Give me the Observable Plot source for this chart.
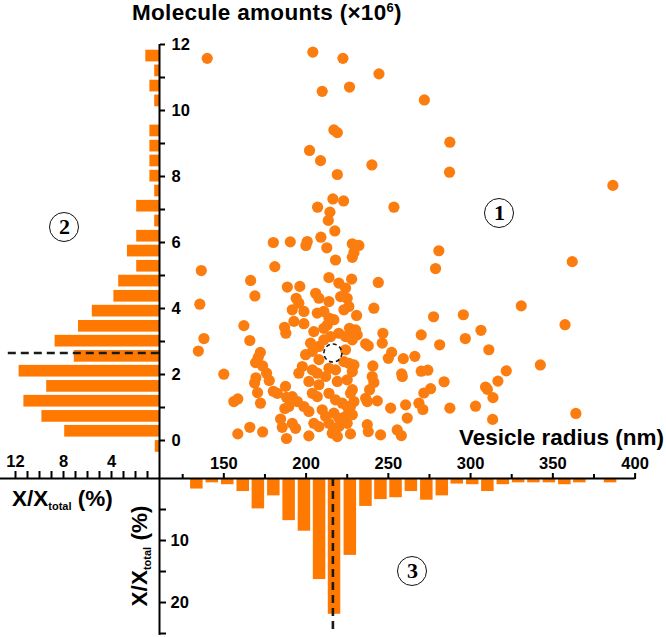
<!DOCTYPE html>
<html>
<head>
<meta charset="utf-8">
<script src="https://cdn.jsdelivr.net/npm/d3@7"></script>
<script src="https://cdn.jsdelivr.net/npm/@observablehq/plot@0.6"></script>
<style>
  body { margin: 0; background: #fff; }
  #chart { position: relative; width: 666px; height: 637px; background: #fff;
           font-family: "Liberation Sans", Arial, sans-serif; font-weight: bold; color: #000; }
  #chart svg { position: absolute; left: 0; top: 0; }
  .lbl { position: absolute; white-space: nowrap; line-height: 1; }
  .circ { position: absolute; width: 28px; height: 28px; border: 1.6px solid #111; border-radius: 50%;
          font-family: "Liberation Serif", "DejaVu Serif", serif; font-weight: bold; font-size: 22px;
          line-height: 28px; text-align: center; }
  sub { font-size: 11px; vertical-align: -4px; }
</style>
</head>
<body>
<div id="chart"></div>
<script>
// ---------- data ----------
// Scatter: vesicle radius (nm) and molecule amount (x10^6)
const scatterRadius = [
  139.9,204.1,222.4,244.3,226.4,209.8,216.9,219.0,202.1,208.8,240.0,219.0,216.3,222.8,207.0,253.4,214.5,213.5,217.5,209.0,180.1,190.4,200.7,199.9,212.6,228.1,232.1,
  271.9,287.4,287.2,386.5,280.7,278.7,361.8,330.8,277.5,295.6,357.4,270.0,306.3,281.2,296.8,311.1,266.1,259.1,258.1,270.0,274.0,321.7,342.4,283.9,316.6,275.7,271.6,309.1,310.2,313.6,260.5,268.6,271.0,287.4,303.0,261.5,313.4,364.0,257.9,
  136.3,135.4,137.9,134.5,150.0,158.5,165.8,173.6,156.1,158.5,172.3,170.5,168.7,169.5,176.0,177.6,173.6,169.3,170.9,172.2,165.8,162.2,168.9,166.3,181.0,188.6,186.9,187.7,180.1,182.5,187.5,188.1,187.1,184.5,185.5,188.1,
  217.9,213.9,196.2,219.9,224.0,194.0,195.6,205.8,207.8,213.9,221.0,225.0,191.6,198.7,206.8,210.8,213.9,216.9,223.0,192.6,198.7,204.7,210.8,212.9,219.9,224.0,214.9,202.7,203.8,199.7,207.8,210.8,224.0,223.0,207.8,197.7,195.6,203.8,206.8,213.9,217.9,211.9,201.7,207.8,219.0,225.0,191.6,194.7,203.8,206.8,213.9,217.9,222.0,225.0,189.5,198.7,201.7,209.8,211.9,216.9,219.9,224.0,225.0,191.6,193.6,204.7,207.8,213.9,216.9,219.9,201.7,215.9,219.0,
  229.1,228.1,227.7,243.9,226.0,241.2,230.7,226.4,230.1,227.7,231.1,228.1,236.2,237.8,246.7,246.3,252.0,250.0,226.0,229.1,228.1,240.6,240.2,241.2,258.5,228.1,227.0,238.6,236.2,237.2,243.3,229.1,227.0,251.4,228.1,237.2,237.8,227.0,245.3,255.4
];
const scatterAmount = [
  11.58,11.77,11.58,11.11,10.71,10.58,9.41,9.33,8.79,8.48,8.35,8.06,7.32,7.26,7.07,7.07,6.92,6.67,6.35,6.16,6.00,6.02,6.03,5.91,5.84,5.96,5.91,
  10.32,9.04,8.13,7.73,5.75,5.21,5.42,4.08,3.75,3.81,3.51,3.20,3.34,2.90,3.09,2.75,2.55,2.48,2.02,2.10,2.13,2.11,2.29,1.78,1.80,1.57,1.44,1.62,1.55,1.30,1.08,1.13,0.94,0.98,1.04,0.68,0.64,0.82,0.15,
  5.15,4.13,3.09,2.71,2.01,0.20,0.40,0.26,1.18,1.26,1.13,1.45,1.74,1.90,2.04,1.82,2.26,2.36,2.52,2.67,3.03,3.48,4.38,4.85,5.27,4.65,3.43,3.25,1.49,1.43,1.64,1.31,0.97,0.65,0.40,0.06,
  5.47,4.94,4.67,4.77,4.62,4.31,4.16,4.46,4.31,4.21,4.36,4.31,3.96,3.91,3.86,3.91,3.71,3.66,3.96,3.61,3.54,3.30,3.40,3.50,3.25,3.15,3.15,2.95,2.70,2.60,2.85,3.05,2.75,2.39,2.45,2.24,2.04,2.14,2.04,2.19,2.14,1.94,1.79,1.69,1.79,1.84,1.33,1.18,1.43,1.33,1.43,1.23,1.13,1.03,1.03,1.03,0.88,0.93,0.73,0.83,0.68,0.73,0.52,0.52,0.37,0.52,0.42,0.52,0.37,0.42,0.14,0.22,0.12,
  5.70,5.55,4.89,4.79,4.06,4.01,3.79,3.40,3.35,3.25,3.20,3.05,2.93,2.87,3.25,2.95,2.67,2.49,2.34,2.29,2.09,2.26,1.94,1.76,1.94,1.54,1.43,1.54,1.28,1.18,1.20,1.18,1.03,0.98,0.78,0.48,0.27,0.20,0.17,0.32
];
// Median marker
const medianRadius = 216.3;
const medianAmount = 2.65;

// Histogram (2): molecule amount distribution
const amountBinCenter = [-0.18,0.28,0.73,1.19,1.64,2.10,2.55,3.01,3.46,3.92,4.37,4.83,5.28,5.74,6.19,6.65,7.10,7.56,8.01,8.47,8.92,9.38,9.83,10.29,10.74,11.20,11.65];
const amountBinPct    = [0.35,7.9,9.8,11.3,9.4,11.7,7.1,8.7,6.75,5.6,3.8,3.4,1.9,2.67,1.9,0.4,1.9,0.4,0.8,0.8,0.8,0.8,0,0.4,0.8,0.4,1.14];
const amountBinHalf = 0.177;

// Histogram (3): vesicle radius distribution
const radiusBinCenter = [133.6,143.0,152.4,161.8,171.0,180.4,189.7,199.0,208.2,217.3,226.9,236.4,245.5,254.7,264.0,273.4,282.8,291.9,301.3,310.5,319.9,329.2,338.5,347.9,357.3,366.4,375.7,385.1];
const radiusBinPct    = [1.7,0.7,1.0,2.1,4.9,2.8,6.8,8.5,16.3,21.9,12.4,4.5,3.4,3.1,2.1,3.5,2.8,0.9,1.0,2.1,1.0,0.7,0.7,0.7,1.0,0.7,0,0.7];
const radiusBinHalf = 3.8;

// Ticks
const amountTicks = [0,2,4,6,8,10,12];
const amountMinor = [1,3,5,7,9,11];
const radiusTicks = [150,200,250,300,350,400];
const radiusMinor = [125,175,225,275,325,375];
const leftPctTicks = [4,8,12];
const leftPctMinor = [1,2,3,5,6,7,9,10,11];
const bottomPctTicks = [10,20];
const bottomPctMinor = [5,15,25];

// ---------- layout ----------
const W = 666, H = 637;
const axisPx = 159, rightPx = 634.6, topPx = 44, zeroPx = 440, basePx = 478, bottomPx = 636;
const radiusDomain = [110.9, 400];
const amountDomain = [0, 12];
const leftPctDomain = [0, 13.25];
const bottomPctDomain = [0, 25.48];
const amountAxisLow = -1.15; // amount value at the horizontal axis line

const DOT = "#fb7d10";
const BAR = "#ff7800";
const INK = "#1a1a1a";
const style = {background: "transparent", overflow: "visible", fontFamily: "'Liberation Sans', Arial, sans-serif", fontSize: "16.5px", fontWeight: "bold", color: "#000"};
const tickText = {fontSize: 16.5, fontWeight: "bold", label: null, strokeWidth: 2};

const chart = document.getElementById("chart");

// (1) scatter
const scatterIdx = d3.range(scatterRadius.length);
chart.append(Plot.plot({
  width: W, height: H,
  marginLeft: axisPx, marginRight: W - rightPx, marginTop: topPx, marginBottom: H - zeroPx,
  x: {domain: radiusDomain, axis: null},
  y: {domain: amountDomain, axis: null},
  style,
  marks: [
    Plot.dot(scatterIdx, {x: i => scatterRadius[i], y: i => scatterAmount[i], r: 5.6, fill: DOT}),
    Plot.dot([{r: medianRadius, a: medianAmount}], {x: "r", y: "a", r: 9, fill: "none", stroke: INK, strokeWidth: 1.6, strokeDasharray: "4,3"})
  ]
}));

// (2) left histogram + amount axis
const amountIdx = d3.range(amountBinCenter.length);
chart.append(Plot.plot({
  width: W, height: H,
  marginLeft: 0, marginRight: W - axisPx, marginTop: topPx, marginBottom: H - zeroPx,
  x: {domain: leftPctDomain, reverse: true, axis: null},
  y: {domain: amountDomain},
  style,
  marks: [
    Plot.rect(amountIdx, {x1: 0, x2: i => amountBinPct[i], y1: i => amountBinCenter[i] - amountBinHalf, y2: i => amountBinCenter[i] + amountBinHalf, fill: BAR}),
    Plot.ruleY([medianAmount], {x1: 12.6, x2: 0, stroke: INK, strokeWidth: 2.6, strokeDasharray: "8,5"}),
    Plot.ruleX([0], {y1: amountAxisLow, y2: 12, stroke: "#000", strokeWidth: 2}),
    Plot.axisY({anchor: "right", ticks: amountTicks, tickSize: 5, tickPadding: 7, ...tickText}),
    Plot.axisY({anchor: "right", ticks: amountMinor, tickSize: 5, tickFormat: () => "", label: null, strokeWidth: 2})
  ]
}));

// (3) bottom histogram + radius axis
const radiusIdx = d3.range(radiusBinCenter.length);
chart.append(Plot.plot({
  width: W, height: H,
  marginLeft: axisPx, marginRight: W - rightPx, marginTop: basePx, marginBottom: H - bottomPx,
  x: {domain: radiusDomain},
  y: {domain: bottomPctDomain, reverse: true, axis: null},
  style,
  marks: [
    Plot.rect(radiusIdx, {x1: i => radiusBinCenter[i] - radiusBinHalf, x2: i => radiusBinCenter[i] + radiusBinHalf, y1: 0, y2: i => radiusBinPct[i], fill: BAR}),
    Plot.ruleX([medianRadius], {y1: 0, y2: 24.6, stroke: INK, strokeWidth: 2.6, strokeDasharray: "8,5"}),
    Plot.ruleY([0], {stroke: "#000", strokeWidth: 2}),
    Plot.axisX({anchor: "top", ticks: radiusTicks, tickSize: 6, tickPadding: 4, ...tickText}),
    Plot.axisX({anchor: "top", ticks: radiusMinor, tickSize: 5, tickFormat: () => "", label: null, strokeWidth: 2})
  ]
}));

// (4) left % axis and bottom % axis
chart.append(Plot.plot({
  width: W, height: H,
  marginLeft: 0, marginRight: W - axisPx, marginTop: basePx, marginBottom: H - bottomPx,
  x: {domain: leftPctDomain, reverse: true},
  y: {domain: bottomPctDomain, reverse: true},
  style,
  marks: [
    Plot.ruleY([0], {stroke: "#000", strokeWidth: 2}),
    Plot.ruleX([0], {y1: 0, y2: 25.3, stroke: "#000", strokeWidth: 2}),
    Plot.axisX({anchor: "top", ticks: leftPctTicks, tickSize: 8, tickPadding: 4, ...tickText}),
    Plot.axisX({anchor: "top", ticks: leftPctMinor, tickSize: 8, tickFormat: () => "", label: null, strokeWidth: 2}),
    Plot.axisY({anchor: "right", ticks: bottomPctTicks, tickSize: 6, tickPadding: 5, ...tickText}),
    Plot.axisY({anchor: "right", ticks: bottomPctMinor, tickSize: 6, tickFormat: () => "", label: null, strokeWidth: 2})
  ]
}));

// ---------- text labels ----------
function addLabel(html, css) {
  const d = document.createElement("div");
  d.className = "lbl";
  d.innerHTML = html;
  Object.assign(d.style, css);
  chart.append(d);
  return d;
}
addLabel('Molecule amounts (×10<span style="font-size:13px;vertical-align:8px">6</span>)', {left: "132px", top: "1px", fontSize: "22.5px", letterSpacing: "0.3px"});
addLabel('Vesicle radius (nm)', {left: "459px", top: "427px", fontSize: "22.5px"});
addLabel('X/X<sub>total</sub> (%)', {left: "12px", top: "488px", fontSize: "22.5px"});
addLabel('X/X<sub>total</sub> (%)', {left: "141px", top: "556px", fontSize: "22.5px", transform: "translate(-50%,-50%) rotate(-90deg)", transformOrigin: "center"});

function addCirc(t, cx, cy) {
  const d = document.createElement("div");
  d.className = "circ";
  d.textContent = t;
  d.style.left = (cx - 15.6) + "px";
  d.style.top = (cy - 15.6) + "px";
  chart.append(d);
}
addCirc("1", 500, 214);
addCirc("2", 65, 228);
addCirc("3", 413, 572);
</script>
</body>
</html>
